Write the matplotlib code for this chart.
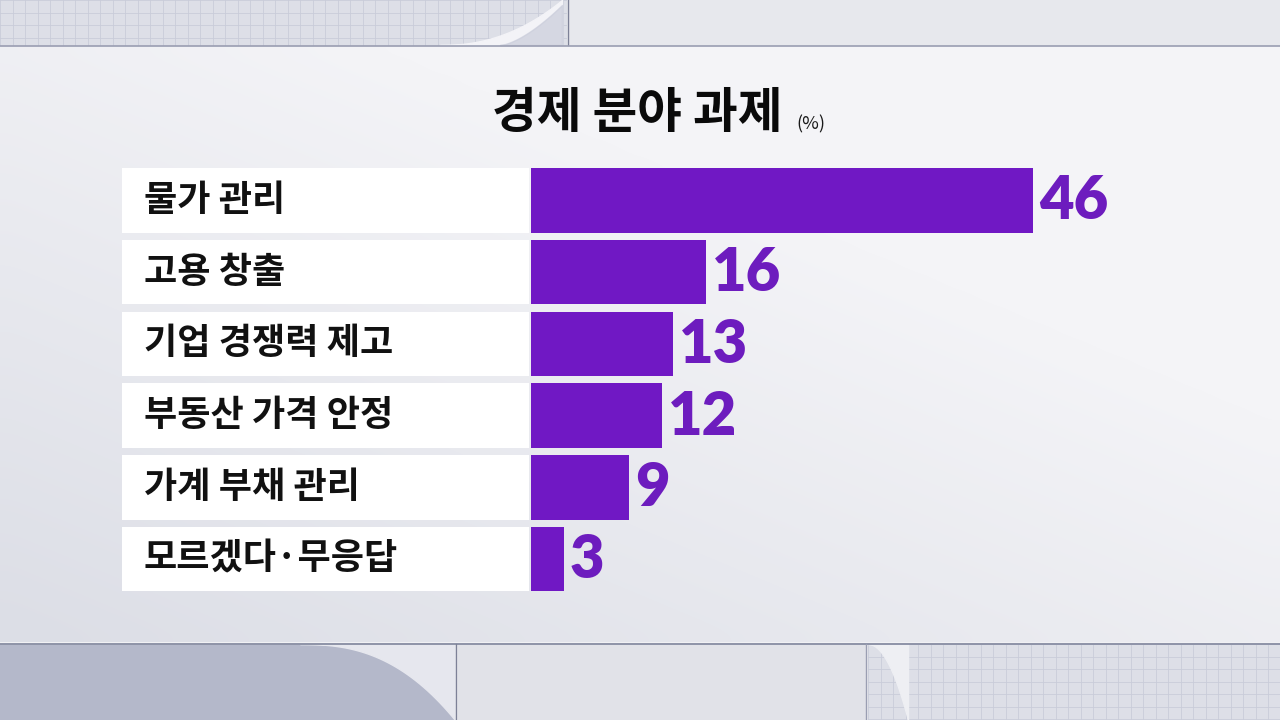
import numpy as np
import matplotlib
matplotlib.use('Agg')
import matplotlib.pyplot as plt
from matplotlib.patches import Rectangle
from matplotlib.colors import LinearSegmentedColormap

categories = ['물가 관리', '고용 창출', '기업 경쟁력 제고', '부동산 가격 안정', '가계 부채 관리', '모르겠다·무응답']
values = [46, 16, 13, 12, 9, 3]
title = '경제 분야 과제'
unit = '(%)'

BAR_COLOR = '#7018C4'
LABEL_COLOR = '#6D1CBE'
KR_FONT = ['Noto Sans CJK KR', 'DejaVu Sans']
NUM_FONT = ['Lato', 'DejaVu Sans']

W, H = 1280, 720
fig = plt.figure(figsize=(12.8, 7.2), dpi=100)
fig.patch.set_facecolor('#F1F1F4')

# background decoration in pixel coordinates
bg = fig.add_axes([0, 0, 1, 1])
bg.set_xlim(0, W)
bg.set_ylim(H, 0)
bg.axis('off')

# soft gradient on the main panel (darker towards bottom-left)
gx, gy = np.meshgrid(np.linspace(0, 1, 64), np.linspace(0, 1, 36))
shade = np.clip(0.5 * (1 - gx) + 0.55 * gy - 0.35, 0, 1)
cmap = LinearSegmentedColormap.from_list('panel', ['#F4F4F7', '#DCDEE6'])
bg.imshow(shade, cmap=cmap, extent=(0, W, 642, 46), aspect='auto', zorder=0,
          interpolation='bicubic')


def grid_paper(x0, y0, x1, y1, step=12.5):
    bg.add_patch(Rectangle((x0, y0), x1 - x0, y1 - y0, color='#DDDFE7', zorder=0))
    for px in np.arange(x0, x1, step):
        bg.plot([px, px], [y0, y1], color='#C9CCD9', lw=0.6, zorder=1)
    for py in np.arange(y0, y1, step):
        bg.plot([x0, x1], [py, py], color='#C9CCD9', lw=0.6, zorder=1)


t = np.linspace(0, 1, 40)

# top strip
grid_paper(0, 0, 566, 45)
bg.add_patch(Rectangle((568, 0), W - 568, 45, color='#E7E8ED', zorder=0))
bg.fill_between(440 + 122 * t, 45 - 45 * t ** 2.2, 45, color='#F3F3F7', zorder=2)
bg.fill_between(500 + 62 * t, 45 - 40 * t ** 1.5, 45, color='#C9CCDA', zorder=2, alpha=0.7)
bg.plot([568, 568], [0, 45], color='#7D8197', lw=1.0, zorder=2)
bg.plot([0, W], [45.5, 45.5], color='#9A9EB2', lw=1.2, zorder=2)

# bottom strip
bg.add_patch(Rectangle((0, 644), 455, 76, color='#B4B8CA', zorder=0))
bg.fill_between(300 + 155 * t, 644, 644 + 76 * t ** 2.5, color='#E6E7EE', zorder=1)
bg.add_patch(Rectangle((458, 644), 407, 76, color='#E1E2E8', zorder=0))
grid_paper(868, 644, W, 720)
bg.fill_between(868 + 40 * t, 644, 644 + 76 * t ** 2, color='#EEEFF3', zorder=2)
bg.plot([0, W], [643.5, 643.5], color='#8E93A8', lw=1.4, zorder=3)
bg.plot([456, 456], [644, 720], color='#7D8197', lw=1.0, zorder=3)
bg.plot([866, 866], [644, 720], color='#9A9EB2', lw=1.0, zorder=3)

# title
bg.text(492, 114, title, fontsize=35, fontweight='bold', family=KR_FONT,
        color='#0A0A0A', ha='left', va='center')
bg.text(796, 124, unit, fontsize=13, family=KR_FONT, color='#1A1A1A',
        ha='left', va='center')

# chart axes: x in value units, one unit ~ 10.91 px
px_per_unit = (1033 - 531) / 46.0
left_px, right_px = 531, 1280
top_px, bottom_px = 164.5, 595.0
ax = fig.add_axes([left_px / W, 1 - bottom_px / H,
                   (right_px - left_px) / W, (bottom_px - top_px) / H])
ax.set_xlim(0, (right_px - left_px) / px_per_unit)
ax.set_ylim(len(categories) - 0.5, -0.5)
ax.axis('off')
ax.patch.set_alpha(0)

y = np.arange(len(categories))
box_w = (529 - 122) / px_per_unit
ax.barh(y, [box_w] * len(categories), left=-box_w - 2 / px_per_unit, height=0.9,
        color='white', clip_on=False, zorder=1)
ax.barh(y, values, height=0.9, color=BAR_COLOR, zorder=2)

for i, (cat, v) in enumerate(zip(categories, values)):
    ax.text(-(531 - 144) / px_per_unit, i, cat, fontsize=26, fontweight='bold',
            family=KR_FONT, color='#111111', ha='left', va='center', clip_on=False)
    ax.text(v + 6 / px_per_unit, i + 0.02, str(v), fontsize=43, fontweight='heavy',
            family=NUM_FONT, color=LABEL_COLOR, ha='left', va='center')

plt.savefig('out.png', dpi=100, facecolor=fig.get_facecolor())
